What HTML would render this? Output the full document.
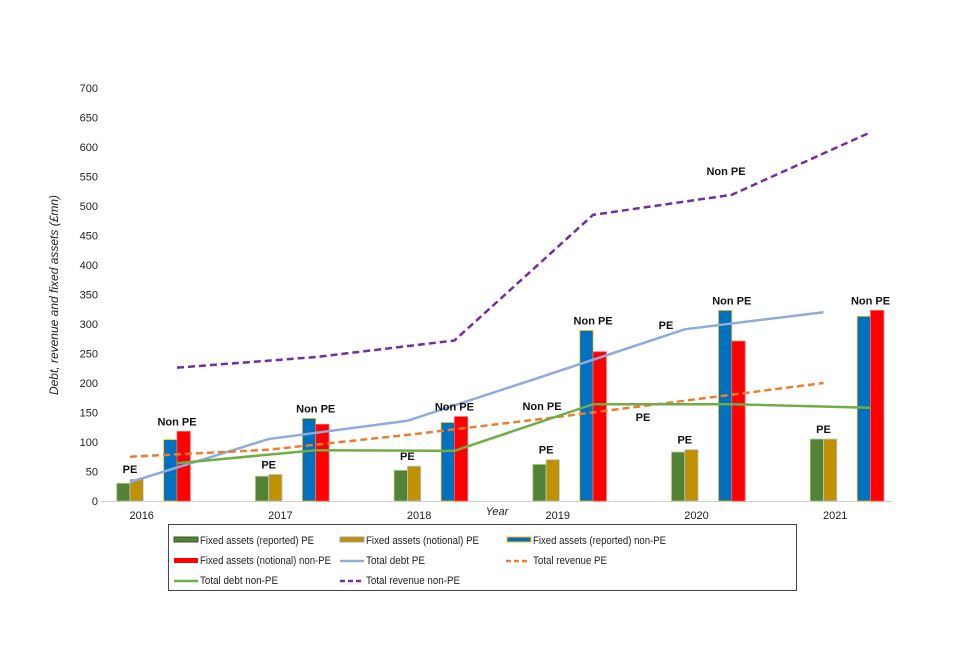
<!DOCTYPE html>
<html><head><meta charset="utf-8"><style>
body{margin:0;background:#fff;}
svg text{font-family:"Liberation Sans",Arial,sans-serif;}
</style></head><body>
<svg id="chart" width="960" height="640" xmlns="http://www.w3.org/2000/svg">
<g id="axes"></g><g id="bars"></g><g id="lines"></g><g id="labels"></g>
<text x="0" y="0" transform="translate(58,295) rotate(-90)" text-anchor="middle" font-size="12" font-style="italic" fill="#222">Debt, revenue and fixed assets (£mn)</text>
<text x="497" y="515" text-anchor="middle" font-size="11" font-style="italic" fill="#222">Year</text>
<g>
<rect x="168.5" y="524.5" width="628" height="66" fill="#fff" stroke="#444" stroke-width="1"/>
<g><rect x="174" y="537" width="24" height="5" fill="#548235" stroke="#385723" stroke-width="1"/><text x="200" y="544" font-size="11" fill="#222" textLength="114" lengthAdjust="spacingAndGlyphs">Fixed assets (reported) PE</text></g>
<g><rect x="340" y="537" width="24" height="5" fill="#bf9000" stroke="#a0a0a0" stroke-width="1"/><text x="366" y="544" font-size="11" fill="#222" textLength="113" lengthAdjust="spacingAndGlyphs">Fixed assets (notional) PE</text></g>
<g><rect x="507" y="537" width="24" height="5" fill="#0070c0" stroke="#ffc000" stroke-width="1"/><text x="533" y="544" font-size="11" fill="#222" textLength="133" lengthAdjust="spacingAndGlyphs">Fixed assets (reported) non-PE</text></g>
<g><rect x="174" y="558" width="24" height="5" fill="#ff0000"/><text x="200" y="564" font-size="11" fill="#222" textLength="131" lengthAdjust="spacingAndGlyphs">Fixed assets (notional) non-PE</text></g>
<g><line x1="340" y1="561" x2="364" y2="561" stroke="#8faadc" stroke-width="2.5"/><text x="366" y="564" font-size="11" fill="#222" textLength="59" lengthAdjust="spacingAndGlyphs">Total debt PE</text></g>
<g><line x1="506" y1="561" x2="530" y2="561" stroke="#ed7d31" stroke-width="2.5" stroke-dasharray="5,3"/><text x="533" y="564" font-size="11" fill="#222" textLength="74" lengthAdjust="spacingAndGlyphs">Total revenue PE</text></g>
<g><line x1="174" y1="581" x2="198" y2="581" stroke="#70ad47" stroke-width="2.5"/><text x="200" y="584" font-size="11" fill="#222" textLength="78" lengthAdjust="spacingAndGlyphs">Total debt non-PE</text></g>
<g><line x1="340" y1="581" x2="364" y2="581" stroke="#7030a0" stroke-width="2.5" stroke-dasharray="5,3"/><text x="366" y="584" font-size="11" fill="#222" textLength="94" lengthAdjust="spacingAndGlyphs">Total revenue non-PE</text></g>
</g>
</svg>
<script>
const years = ["2016","2017","2018","2019","2020","2021"];
const yTicks = [0,50,100,150,200,250,300,350,400,450,500,550,600,650,700];
const fixedReportedPE = [30,42,52,62,83,105];
const fixedNotionalPE = [37,45,59,70,87,105];
const fixedReportedNonPE = [104,140,133,289,323,313];
const fixedNotionalNonPE = [118,130,143,253,271,323];
const totalDebtPE = [32,105,136,213,291,320];
const totalRevenuePE = [75,87,112,140,170,200];
const totalDebtNonPE = [64,86,85,164,164,158];
const totalRevenueNonPE = [226,244,272,485,519,625];

const NS="http://www.w3.org/2000/svg";
const y0=501, yPx=413/700, step=138.7, x0=116.7, bw=13.3;
function ys(v){return y0 - v*yPx;}
function groupX(i){return x0 + i*step;}
function el(tag,attrs,parent){const e=document.createElementNS(NS,tag);for(const k in attrs)e.setAttribute(k,attrs[k]);parent.appendChild(e);return e;}
const axes=document.getElementById('axes'),bars=document.getElementById('bars'),lines=document.getElementById('lines'),labels=document.getElementById('labels');

yTicks.forEach(t=>{
  const tx=el('text',{x:98,y:ys(t)+4,'text-anchor':'end','font-size':11,fill:'#222'},axes);
  tx.textContent=t;
  
  
});
const ax=el('line',{x1:101,y1:y0+0.5,x2:893,y2:y0+0.5,stroke:'#d0d0d0','stroke-width':1},axes);


years.forEach((yr,i)=>{
  const tx=el('text',{x:groupX(i)+25,y:519,'text-anchor':'middle','font-size':11,fill:'#222'},axes);
  tx.textContent=yr;
  
  
});

const barSeries=[
  {d:fixedReportedPE,off:0,fill:'#548235',stroke:'#a9d18e',name:'bar-fixed-reported-pe'},
  {d:fixedNotionalPE,off:bw,fill:'#bf9000',stroke:'#b4c7e7',name:'bar-fixed-notional-pe'},
  {d:fixedReportedNonPE,off:47,fill:'#0070c0',stroke:'#ffc000',name:'bar-fixed-reported-nonpe'},
  {d:fixedNotionalNonPE,off:47+bw,fill:'#ff0000',stroke:'#ff6060',name:'bar-fixed-notional-nonpe'}
];
barSeries.forEach(s=>{
  s.d.forEach((v,i)=>{
    const x=groupX(i)+s.off;
    const r=el('rect',{x:x,y:ys(v),width:bw,height:y0-ys(v),fill:s.fill,stroke:s.stroke,'stroke-width':0.8},bars);
    
    
  });
});
years.forEach((yr,i)=>{
  const pe=el('text',{x:groupX(i)+bw,y:ys(Math.max(fixedReportedPE[i],fixedNotionalPE[i]))-6,'text-anchor':'middle','font-size':11,'font-weight':'bold',fill:'#111'},labels);
  pe.textContent='PE';
  
  
  const np=el('text',{x:groupX(i)+47+bw,y:ys(Math.max(fixedReportedNonPE[i],fixedNotionalNonPE[i]))-6,'text-anchor':'middle','font-size':11,'font-weight':'bold',fill:'#111'},labels);
  np.textContent='Non PE';
  
  
});

const lineSeries=[
  {d:totalDebtPE,off:bw,color:'#8faadc',dash:'',name:'line-total-debt-pe'},
  {d:totalRevenuePE,off:bw,color:'#ed7d31',dash:'7,4',name:'line-total-revenue-pe'},
  {d:totalDebtNonPE,off:47+bw,color:'#70ad47',dash:'',name:'line-total-debt-nonpe'},
  {d:totalRevenueNonPE,off:47+bw,color:'#7030a0',dash:'7,4',name:'line-total-revenue-nonpe'}
];
lineSeries.forEach(s=>{
  const pts=s.d.map((v,i)=>(groupX(i)+s.off)+','+ys(v)).join(' ');
  const p=el('polyline',{points:pts,fill:'none',stroke:s.color,'stroke-width':2.5,'stroke-dasharray':s.dash},lines);
  
  
});

[[726,175,'Non PE'],[666,329,'PE'],[542,410,'Non PE'],[643,421,'PE']].forEach(a=>{
  const t=el('text',{x:a[0],y:a[1],'text-anchor':'middle','font-size':11,'font-weight':'bold',fill:'#111'},labels);
  t.textContent=a[2];
  
  
});
</script>
</body></html>
